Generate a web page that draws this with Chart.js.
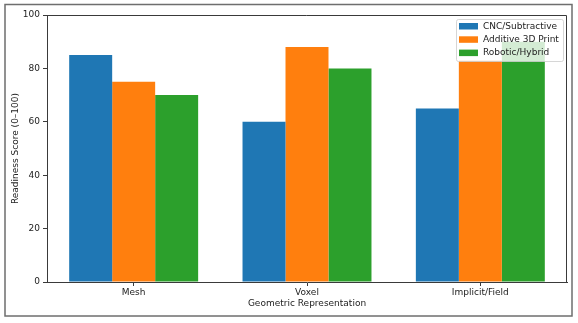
<!DOCTYPE html>
<html>
<head>
<meta charset="utf-8">
<script src="https://cdn.jsdelivr.net/npm/chart.js@4.4.1/dist/chart.umd.min.js"></script>
<style>
  html, body { margin: 0; padding: 0; background: #ffffff; }
  #wrap { width: 578px; height: 323px; position: relative; }
</style>
</head>
<body>
<div id="wrap"><canvas id="c" width="578" height="323"></canvas></div>
<script>
// Grouped readiness scores per geometric representation
const categories = ['Mesh', 'Voxel', 'Implicit/Field'];
const seriesNames = ['CNC/Subtractive', 'Additive 3D Print', 'Robotic/Hybrid'];
const cncSubtractive = [85, 60, 65];
const additive3DPrint = [75, 88, 83];
const roboticHybrid = [70, 80, 90];
const yTicks = [0, 20, 40, 60, 80, 100];
const xTitle = 'Geometric Representation';
const yTitle = 'Readiness Score (0\u2013100)';

const colors = ['#1f77b4', '#ff7f0e', '#2ca02c'];
const FONT = 'DejaVu Sans';
const TEXT = '#222222';
const SPINE = '#3a3a3a';

// Outer frame around the whole figure
const framePlugin = {
  id: 'frame',
  beforeDraw(chart) {
    const ctx = chart.ctx;
    ctx.save();
    ctx.fillStyle = '#ffffff';
    ctx.fillRect(0, 0, chart.width, chart.height);
    ctx.strokeStyle = '#6e6e6e';
    ctx.lineWidth = 1.5;
    ctx.strokeRect(5, 4.5, 567, 311.5);
    ctx.restore();
  }
};

// Top and right spines to close the axes box
const boxPlugin = {
  id: 'box',
  afterDatasetsDraw(chart) {
    const a = chart.chartArea;
    const ctx = chart.ctx;
    ctx.save();
    ctx.strokeStyle = SPINE;
    ctx.lineWidth = 1;
    ctx.beginPath();
    ctx.moveTo(a.left, a.top + 0.5);
    ctx.lineTo(a.right - 0.5, a.top + 0.5);
    ctx.lineTo(a.right - 0.5, a.bottom);
    ctx.stroke();
    ctx.restore();
  }
};

// Legend drawn inside the plot area, upper right
const innerLegend = {
  id: 'innerLegend',
  afterDraw(chart) {
    const ctx = chart.ctx;
    const a = chart.chartArea;
    const x0 = a.right - 111, y0 = a.top + 4, w = 107, h = 42;
    ctx.save();
    ctx.beginPath();
    if (ctx.roundRect) ctx.roundRect(x0 + 0.5, y0 + 0.5, w, h, 2);
    else ctx.rect(x0 + 0.5, y0 + 0.5, w, h);
    ctx.fillStyle = 'rgba(255,255,255,0.8)';
    ctx.fill();
    ctx.strokeStyle = 'rgba(204,204,204,0.8)';
    ctx.lineWidth = 1;
    ctx.stroke();
    ctx.font = '9px "' + FONT + '"';
    ctx.textBaseline = 'middle';
    ctx.textAlign = 'left';
    chart.data.datasets.forEach((ds, i) => {
      const cy = y0 + 7 + i * 13.3;
      ctx.fillStyle = ds.backgroundColor;
      ctx.fillRect(x0 + 3, cy - 3, 19, 6.5);
      ctx.fillStyle = TEXT;
      ctx.fillText(ds.label, x0 + 27, cy + 0.5);
    });
    ctx.restore();
  }
};

const datasets = [cncSubtractive, additive3DPrint, roboticHybrid].map((vals, i) => ({
  label: seriesNames[i],
  data: vals,
  backgroundColor: colors[i],
  borderWidth: 0,
  categoryPercentage: 0.744,
  barPercentage: 1.0
}));

new Chart(document.getElementById('c'), {
  type: 'bar',
  data: { labels: categories, datasets },
  options: {
    responsive: false,
    devicePixelRatio: 1,
    animation: false,
    layout: { padding: { left: 0, top: 15, right: 11, bottom: 0 } },
    plugins: {
      legend: { display: false },
      tooltip: { enabled: false }
    },
    scales: {
      x: {
        offset: true,
        grid: { display: true, drawOnChartArea: false, offset: false, tickLength: 4, color: SPINE },
        border: { display: true, color: SPINE, width: 1 },
        ticks: { color: TEXT, font: { family: FONT, size: 9 }, padding: 1, maxRotation: 0 },
        title: { display: true, text: xTitle, color: TEXT, font: { family: FONT, size: 9 }, padding: { top: 0, bottom: 13.6 } },
        afterFit(scale) { scale.height = 41; }
      },
      y: {
        min: 0,
        max: 100,
        afterBuildTicks(scale) { scale.ticks = yTicks.map(v => ({ value: v })); },
        grid: { display: true, drawOnChartArea: false, tickLength: 4, color: SPINE },
        border: { display: true, color: SPINE, width: 1 },
        ticks: { color: TEXT, font: { family: FONT, size: 9 }, padding: 3 },
        title: { display: true, text: yTitle, color: TEXT, font: { family: FONT, size: 9 }, padding: { top: 10.6, bottom: 0 } },
        afterFit(scale) { scale.width = 47; }
      }
    }
  },
  plugins: [framePlugin, boxPlugin, innerLegend]
});
</script>
</body>
</html>
